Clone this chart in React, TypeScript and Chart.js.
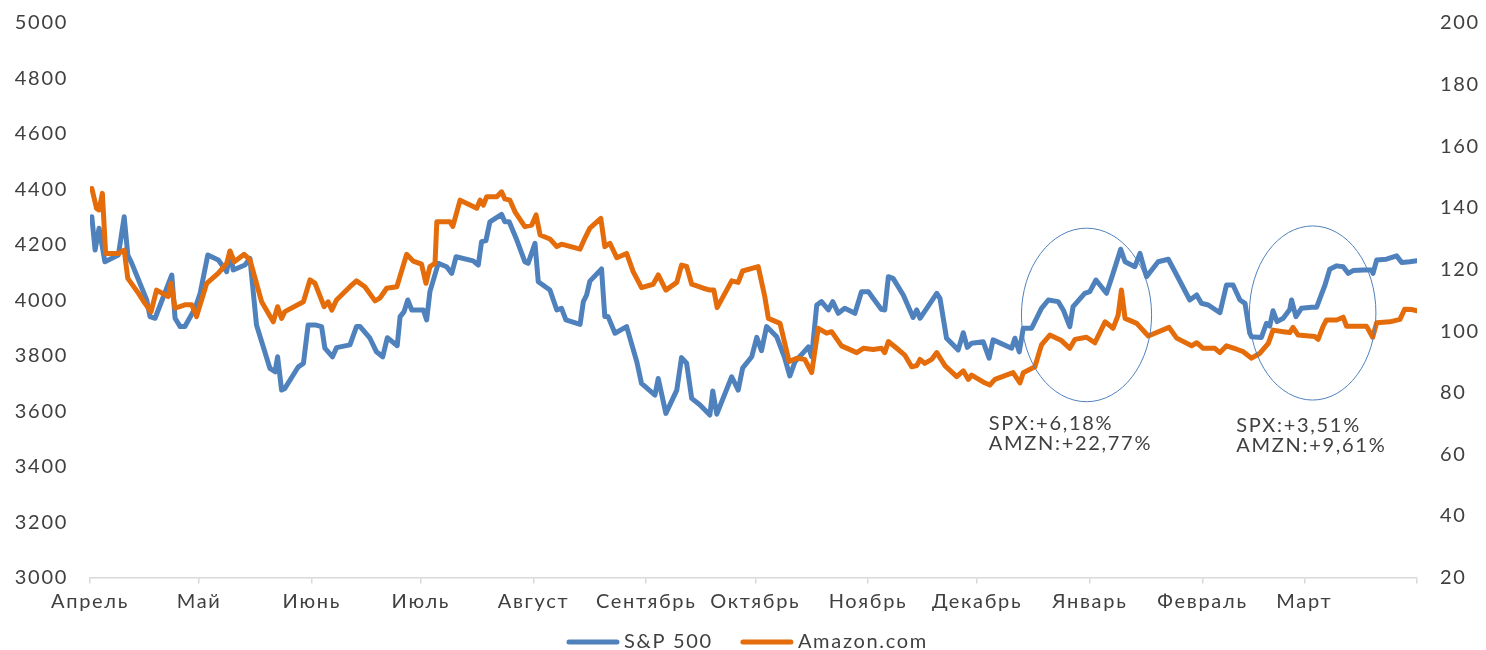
import { useEffect, useRef } from "react";
import { Chart, registerables } from "chart.js";

Chart.register(...registerables);

// ---- axis data ----
const monthStarts = [0, 30, 61, 91, 122, 153, 183, 214, 244, 275, 306, 334, 365];
const monthLabels = ["Апрель", "Май", "Июнь", "Июль", "Август", "Сентябрь", "Октябрь", "Ноябрь", "Декабрь", "Январь", "Февраль", "Март", ""];
const spxAxis = { min: 3000, max: 5000, step: 200 };
const amznAxis = { min: 20, max: 200, step: 20 };

// ---- series data (day offset from first month tick, value) ----
const spxDays = [0.5,1.4,2.5,4.1,7.8,9.4,10.4,11.5,15.6,16.5,
17.9,22.5,23.4,24.8,26.1,28.9,30.3,32.4,35.3,37.6,
38.5,39.4,42.6,44.0,45.8,49.5,50.9,51.6,52.7,53.6,
57.3,58.7,60.0,61.9,63.7,64.6,66.7,67.8,71.5,73.3,
74.3,77.0,78.8,80.5,81.8,84.5,85.3,86.4,87.4,88.5,
91.7,92.6,93.5,95.8,98.1,99.5,100.7,105.4,106.8,107.7,
108.9,110.0,113.2,114.1,115.3,117.4,119.6,120.5,122.4,123.3,
126.5,128.4,129.7,130.9,134.8,135.7,136.6,137.5,140.7,141.6,
142.5,144.4,147.6,150.4,151.7,155.4,156.3,158.4,161.4,162.7,
164.1,165.5,167.8,170.5,171.3,172.4,176.5,178.3,179.5,182.0,
183.4,184.7,186.1,188.9,191.1,192.5,193.9,196.2,197.6,198.5,
199.9,201.2,203.1,204.3,205.8,207.6,210.4,212.2,214.1,215.4,
217.7,218.6,219.6,220.9,223.7,226.4,227.4,228.3,232.9,233.8,
235.6,238.8,240.2,241.3,242.5,245.7,247.3,248.4,253.5,254.4,
255.6,256.7,259.0,261.7,263.6,266.3,267.7,269.5,270.4,273.6,
275.0,276.7,277.8,279.6,281.4,283.5,284.7,287.4,288.8,290.6,
293.8,296.6,298.9,302.5,304.4,305.7,307.6,310.8,312.6,314.4,
316.3,317.7,319.0,319.5,322.2,323.6,324.5,325.4,326.5,328.2,
330.0,330.5,331.7,333.2,336.0,337.4,338.3,339.7,341.0,342.9,
344.7,346.1,347.4,350.2,352.5,352.9,353.9,356.6,359.4,360.8,
363.0,365];
const spxValues = [4301,4181,4260,4139,4163,4301,4163,4133,4001,3941,
3935,4091,3935,3905,3905,3971,4025,4163,4145,4103,
4175,4109,4127,4151,3911,3754,3742,3796,3676,3682,
3760,3772,3911,3911,3905,3827,3796,3829,3839,3905,
3905,3863,3814,3796,3865,3836,3941,3959,4001,3965,
3965,3929,4031,4133,4121,4097,4157,4142,4127,4211,
4215,4283,4310,4283,4283,4217,4139,4133,4205,4067,
4037,3965,3971,3929,3913,3995,4019,4069,4113,3941,
3941,3881,3905,3778,3700,3658,3718,3592,3676,3793,
3773,3646,3622,3586,3673,3589,3724,3676,3755,3796,
3866,3818,3905,3868,3791,3727,3778,3811,3832,3796,
3983,3995,3965,3995,3953,3971,3953,4031,4031,4007,
3967,3965,4085,4079,4019,3938,3965,3935,4025,4007,
3863,3821,3883,3830,3845,3850,3791,3857,3827,3863,
3814,3899,3899,3971,4001,3995,3965,3905,3977,4025,
4031,4073,4055,4025,4097,4184,4139,4121,4169,4085,
4139,4148,4091,4001,4019,3989,3983,3955,4055,4055,
4001,3989,3881,3868,3866,3917,3907,3962,3923,3935,
3967,4001,3941,3971,3975,3975,4007,4055,4112,4124,
4121,4097,4107,4109,4109,4097,4145,4148,4160,4136,
4139,4143];

const amznDays = [0.5,1.8,2.5,3.4,4.3,7.8,9.4,10.4,13.3,15.1,
16.8,18.3,21.5,22.3,23.4,26.1,28.0,29.3,32.1,35.3,
37.6,38.5,39.7,42.4,44.0,47.2,50.4,51.6,52.7,53.6,
58.7,60.5,61.9,64.4,65.5,66.5,67.8,71.5,73.3,75.6,
78.4,79.8,81.6,84.4,87.1,88.9,91.2,92.4,93.5,94.9,
95.4,99.0,99.8,101.8,106.4,107.3,108.2,109.1,111.9,113.2,
114.1,115.5,116.9,119.6,121.5,122.7,123.8,126.5,128.4,129.7,
134.8,136.1,137.5,140.5,141.6,143.0,144.9,147.6,149.4,151.7,
154.9,156.3,158.4,161.4,162.7,164.1,165.5,168.7,170.5,171.6,
172.5,176.5,178.3,179.5,183.8,185.6,186.6,189.8,192.3,194.4,
196.6,198.5,200.3,202.6,204.0,206.7,210.9,212.7,215.4,217.7,
218.6,219.6,221.9,224.1,226.0,227.4,228.3,229.6,231.5,232.9,
235.2,238.4,240.2,241.6,242.5,246.1,247.5,248.9,253.9,255.8,
256.7,259.9,261.7,264.0,267.2,269.5,270.9,274.1,276.4,279.2,
281.4,282.8,283.7,284.7,287.9,291.1,296.8,298.9,303.0,304.4,
306.2,309.4,310.8,312.6,315.4,317.2,319.5,321.8,324.1,325.4,
328.2,330.0,330.9,332.3,336.9,337.8,339.2,340.1,342.9,344.7,
345.6,351.1,352.8,353.9,357.5,360.3,361.6,363.5,365];
const amznValues = [146.3,139.8,139.3,144.7,125.2,125.2,126.3,117.1,112.3,109.0,
106.3,113.3,111.2,115.5,107.4,108.5,108.5,104.7,115.5,118.8,
122.0,126.0,122.5,124.9,123.1,109.5,103.0,107.9,104.1,106.3,
109.5,116.6,115.5,107.9,109.5,106.8,110.1,114.4,116.3,114.4,
109.8,110.8,113.9,114.4,124.9,122.7,121.7,115.5,120.9,122.0,
135.5,135.5,134.0,142.5,139.9,142.5,140.9,143.6,143.6,145.2,
142.9,142.5,138.7,133.9,134.4,137.7,131.2,129.9,127.4,128.2,
126.6,130.1,133.4,136.6,127.4,128.5,123.8,125.2,119.3,114.1,
115.2,118.2,113.3,115.8,121.4,121.0,115.2,113.9,113.3,113.3,
107.6,116.3,115.8,119.5,120.9,111.2,104.1,102.5,90.1,91.2,
90.8,86.5,100.9,99.3,99.8,95.2,93.0,94.4,94.0,94.4,
93.0,96.6,94.4,92.2,88.4,88.8,90.8,89.5,90.8,93.0,
88.7,85.2,87.1,84.3,85.7,83.2,82.5,84.3,86.5,83.2,
86.5,88.4,95.5,98.7,96.9,94.4,97.3,98.0,96.2,103.0,
100.9,105.2,113.3,104.1,102.5,98.4,101.2,97.7,95.2,96.2,
94.4,94.4,93.0,95.2,94.1,93.3,91.2,92.8,96.0,100.3,
99.8,99.5,101.2,98.7,98.2,97.3,101.6,103.6,103.6,104.5,
101.6,101.6,98.0,102.7,103.0,103.8,107.1,107.0,106.6];

const seriesNames = ["S&P 500", "Amazon.com"];
const annotationLines = [
  ["SPX:+6,18%", "AMZN:+22,77%"],
  ["SPX:+3,51%", "AMZN:+9,61%"],
];

// ---- styling ----
const BLUE = "#4F81BD";
const ORANGE = "#E46C0A";
const TEXT = "#404040";
const AXIS = "#D9D9D9";
const FONT = "Lato, 'Noto Sans', sans-serif";
const FONT_SIZE = 20;
const LETTER_SPACING = "1.7px";

// annotation geometry, in data units (day, S&P value)
const ellipses = [
  { day: 274.1, value: 3947, rDays: 17.9, rValue: 313 },
  { day: 336.3, value: 3954, rDays: 17.4, rValue: 314 },
];
const textBoxes = [
  { day: 247.2, values: [3532, 3460] },
  { day: 315.3, values: [3525, 3453] },
];

const spacingPlugin = {
  id: "spacing",
  beforeDraw(chart: any) {
    try {
      chart.ctx.letterSpacing = LETTER_SPACING;
    } catch (e) {}
  },
};

const overlayPlugin = {
  id: "overlay",
  afterDraw(chart: any) {
    const { ctx, scales } = chart;
    const xs = scales.x;
    const ys = scales.ySpx;
    ctx.save();
    // ellipses
    ctx.strokeStyle = BLUE;
    ctx.lineWidth = 1;
    for (const e of ellipses) {
      const cx = xs.getPixelForValue(e.day);
      const cy = ys.getPixelForValue(e.value);
      const rx = Math.abs(xs.getPixelForValue(e.day + e.rDays) - cx);
      const ry = Math.abs(ys.getPixelForValue(e.value + e.rValue) - cy);
      ctx.beginPath();
      ctx.ellipse(cx, cy, rx, ry, 0, 0, Math.PI * 2);
      ctx.stroke();
    }
    // annotation texts
    ctx.fillStyle = TEXT;
    ctx.font = `${FONT_SIZE}px ${FONT}`;
    ctx.textAlign = "left";
    ctx.textBaseline = "alphabetic";
    textBoxes.forEach((t, i) => {
      const x = xs.getPixelForValue(t.day);
      annotationLines[i].forEach((line, j) => {
        ctx.fillText(line, x, ys.getPixelForValue(t.values[j]));
      });
    });
    // legend
    const colors = [BLUE, ORANGE];
    const lineLen = 52;
    const gap = 5;
    const itemGap = 28;
    const widths = seriesNames.map((n) => lineLen + gap + ctx.measureText(n).width);
    const total = widths.reduce((a, b) => a + b, 0) + itemGap * (widths.length - 1);
    let x = 747.5 - total / 2;
    const y = 642;
    ctx.textBaseline = "middle";
    seriesNames.forEach((n, i) => {
      ctx.strokeStyle = colors[i];
      ctx.lineWidth = 5;
      ctx.lineCap = "round";
      ctx.beginPath();
      ctx.moveTo(x + 2, y);
      ctx.lineTo(x + lineLen - 2, y);
      ctx.stroke();
      ctx.fillStyle = TEXT;
      ctx.fillText(n, x + lineLen + gap, y);
      x += widths[i] + itemGap;
    });
    ctx.restore();
  },
};

export default function App() {
  const ref = useRef<HTMLCanvasElement | null>(null);
  useEffect(() => {
    if (!ref.current) return;
    const tickFont = { family: FONT, size: FONT_SIZE };
    const fitY = (width: number) => (scale: any) => {
      scale.width = width;
      scale.paddingTop = 0;
      scale.paddingBottom = 0;
    };
    const chart = new Chart(ref.current, {
      type: "line",
      data: {
        datasets: [
          {
            label: seriesNames[0],
            data: spxDays.map((d, i) => ({ x: d, y: spxValues[i] })),
            borderColor: BLUE,
            backgroundColor: BLUE,
            borderWidth: 5,
            pointRadius: 0,
            tension: 0,
            borderJoinStyle: "round",
            borderCapStyle: "round",
            yAxisID: "ySpx",
            order: 1,
          },
          {
            label: seriesNames[1],
            data: amznDays.map((d, i) => ({ x: d, y: amznValues[i] })),
            borderColor: ORANGE,
            backgroundColor: ORANGE,
            borderWidth: 5,
            pointRadius: 0,
            tension: 0,
            borderJoinStyle: "round",
            borderCapStyle: "round",
            yAxisID: "yAmzn",
            order: 0,
          },
        ],
      },
      options: {
        animation: false,
        responsive: false,
        events: [],
        layout: { padding: { top: 23, left: 0, right: 0, bottom: 0 } },
        plugins: {
          legend: { display: false },
          tooltip: { enabled: false },
        },
        scales: {
          x: {
            type: "linear",
            min: monthStarts[0],
            max: monthStarts[monthStarts.length - 1],
            afterBuildTicks: (scale: any) => {
              scale.ticks = monthStarts.map((v) => ({ value: v }));
            },
            afterFit: (scale: any) => {
              scale.height = 72.5;
              scale.paddingLeft = 0;
              scale.paddingRight = 0;
            },
            ticks: {
              autoSkip: false,
              maxRotation: 0,
              minRotation: 0,
              padding: 6,
              color: TEXT,
              font: tickFont,
              callback: (v: any) => {
                const i = monthStarts.indexOf(Number(v));
                return i >= 0 ? monthLabels[i] : "";
              },
            },
            grid: {
              drawOnChartArea: false,
              drawTicks: true,
              tickLength: 6,
              color: AXIS,
              lineWidth: 1.5,
            },
            border: { display: true, color: AXIS, width: 1.5 },
          },
          ySpx: {
            type: "linear",
            position: "left",
            min: spxAxis.min,
            max: spxAxis.max,
            afterFit: fitY(90),
            ticks: {
              stepSize: spxAxis.step,
              padding: 22,
              color: TEXT,
              font: tickFont,
              callback: (v: any) => String(v),
            },
            grid: { display: false, drawTicks: false },
            border: { display: false },
          },
          yAmzn: {
            type: "linear",
            position: "right",
            min: amznAxis.min,
            max: amznAxis.max,
            afterFit: fitY(69),
            ticks: {
              stepSize: amznAxis.step,
              padding: 23,
              color: TEXT,
              font: tickFont,
              callback: (v: any) => String(v),
            },
            grid: { display: false, drawTicks: false },
            border: { display: false },
          },
        },
      } as any,
      plugins: [spacingPlugin, overlayPlugin],
    });
    return () => chart.destroy();
  }, []);
  return (
    <div style={{ position: "absolute", left: 0, top: 0, width: 1486, height: 650, background: "#fff" }}>
      <canvas ref={ref} width={1486} height={650} style={{ display: "block" }} />
    </div>
  );
}
